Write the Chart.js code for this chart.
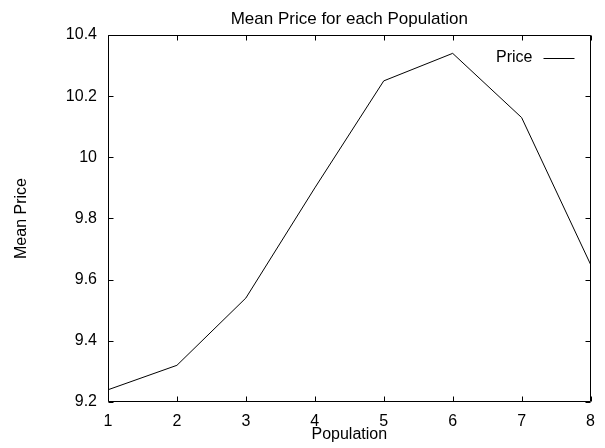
<!DOCTYPE html>
<html>
<head>
<meta charset="utf-8">
<script src="https://cdn.jsdelivr.net/npm/chart.js@4/dist/chart.umd.min.js"></script>
<style>
  html, body { margin: 0; padding: 0; background: #fff; }
  #wrap { width: 605px; height: 448px; }
</style>
</head>
<body>
<div id="wrap"><canvas id="c" width="605" height="448"></canvas></div>
<script>
const populations = [1, 2, 3, 4, 5, 6, 7, 8];
const meanPrice = [9.24, 9.32, 9.54, 9.90, 10.25, 10.34, 10.13, 9.65];
const seriesLabel = 'Price';
const yTicks = [9.2, 9.4, 9.6, 9.8, 10, 10.2, 10.4];
const xTicks = [1, 2, 3, 4, 5, 6, 7, 8];

const FONT = 'Liberation Sans, Arial, Helvetica, sans-serif';
const FS = 16;

const framePlugin = {
  id: 'frame',
  afterDatasetsDraw(chart) {
    const ctx = chart.ctx;
    const a = chart.chartArea;
    const xs = chart.scales.x, ys = chart.scales.y;
    const L = Math.round(a.left) + 0.5, R = Math.round(a.right) - 0.5;
    const T = Math.round(a.top) + 0.5, B = Math.round(a.bottom) - 0.5;
    ctx.save();
    ctx.strokeStyle = '#000';
    ctx.lineWidth = 1;
    ctx.beginPath();
    ctx.rect(L, T, R - L, B - T);
    ctx.stroke();
    const tl = 5;
    ctx.beginPath();
    xTicks.forEach(v => {
      const px = Math.round(xs.getPixelForValue(v)) + 0.5;
      ctx.moveTo(px, B); ctx.lineTo(px, B - tl);
      ctx.moveTo(px, T); ctx.lineTo(px, T + tl);
    });
    yTicks.forEach(v => {
      const py = Math.round(ys.getPixelForValue(v)) + 0.5;
      ctx.moveTo(L, py); ctx.lineTo(L + tl, py);
      ctx.moveTo(R, py); ctx.lineTo(R - tl, py);
    });
    ctx.stroke();
    // legend inside top-right
    const ds = chart.data.datasets[0];
    ctx.font = FS + 'px ' + FONT;
    ctx.fillStyle = '#000';
    ctx.textAlign = 'right';
    ctx.textBaseline = 'middle';
    const ly = Math.round(a.top) + 23;
    ctx.fillText(ds.label, R - 58, ly);
    ctx.beginPath();
    ctx.moveTo(R - 47, ly + 0.5);
    ctx.lineTo(R - 16, ly + 0.5);
    ctx.strokeStyle = ds.borderColor;
    ctx.stroke();
    ctx.restore();
  }
};

new Chart(document.getElementById('c'), {
  type: 'line',
  data: {
    datasets: [{
      label: seriesLabel,
      data: populations.map((p, i) => ({ x: p, y: meanPrice[i] })),
      borderColor: '#000',
      borderWidth: 1,
      pointRadius: 0,
      tension: 0,
      fill: false
    }]
  },
  options: {
    responsive: false,
    animation: false,
    layout: { padding: { left: 0, right: 3, top: 0, bottom: 0 } },
    plugins: {
      legend: { display: false },
      tooltip: { enabled: false },
      title: {
        display: true,
        text: 'Mean Price for each Population',
        color: '#000',
        fullSize: false,
        font: { family: FONT, size: 17, weight: 'normal', lineHeight: 1.2 },
        padding: { top: 9.5, bottom: 5.1 }
      }
    },
    scales: {
      x: {
        type: 'linear',
        min: 1, max: 8,
        afterBuildTicks(s) { s.ticks = xTicks.map(v => ({ value: v })); },
        afterFit(s) { s.height = 46; },
        grid: { display: false, drawTicks: false },
        border: { display: false },
        ticks: { color: '#000', font: { family: FONT, size: FS }, padding: 10, maxRotation: 0,
                 callback: v => String(v) },
        title: { display: true, text: 'Population', color: '#000',
                 font: { family: FONT, size: FS }, padding: { top: 0, bottom: 4 } }
      },
      y: {
        type: 'linear',
        min: 9.2, max: 10.4,
        afterBuildTicks(s) { s.ticks = yTicks.map(v => ({ value: v })); },
        afterFit(s) { s.width = 108; },
        grid: { display: false, drawTicks: false },
        border: { display: false },
        ticks: { color: '#000', font: { family: FONT, size: FS }, padding: 11,
                 callback: v => String(Math.round(v * 10) / 10) },
        title: { display: true, text: 'Mean Price', color: '#000',
                 font: { family: FONT, size: FS }, padding: { top: 12, bottom: 0 } }
      }
    }
  },
  plugins: [framePlugin]
});
</script>
</body>
</html>
